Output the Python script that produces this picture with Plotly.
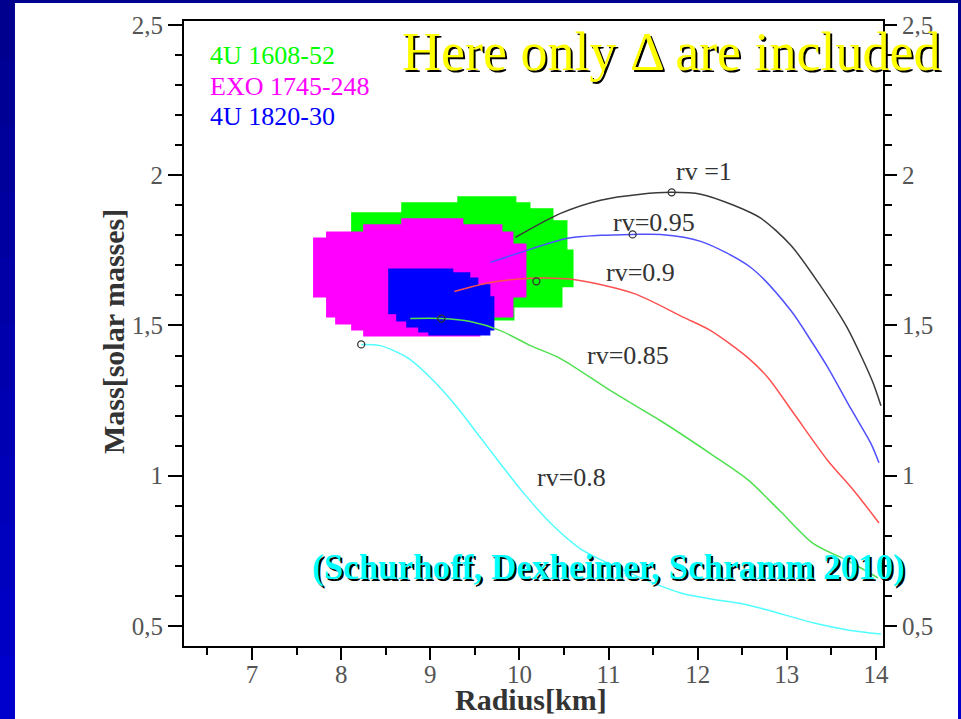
import plotly.graph_objects as go

# ---------------- data ----------------
# rv = 1 (black)
r_rv100 = [9.955, 10.461, 10.910, 11.360, 11.708, 12.034, 12.404, 12.708, 13.045, 13.382, 13.663, 13.831, 13.966, 14.056]
m_rv100 = [1.793, 1.873, 1.917, 1.937, 1.943, 1.937, 1.900, 1.857, 1.767, 1.630, 1.500, 1.400, 1.310, 1.233]
# rv = 0.95 (blue)
r_rv095 = [9.674, 10.011, 10.539, 10.910, 11.270, 11.584, 12.034, 12.596, 13.045, 13.270, 13.461, 13.719, 13.944, 14.034]
m_rv095 = [1.710, 1.743, 1.790, 1.800, 1.803, 1.803, 1.780, 1.693, 1.550, 1.450, 1.360, 1.223, 1.107, 1.043]
# rv = 0.9 (red)
r_rv090 = [9.270, 9.674, 10.124, 10.607, 11.281, 11.843, 12.146, 12.562, 12.787, 13.079, 13.461, 13.753, 14.034]
m_rv090 = [1.613, 1.643, 1.657, 1.653, 1.607, 1.527, 1.483, 1.393, 1.327, 1.207, 1.050, 0.950, 0.843]
# rv = 0.85 (green)
r_rv085 = [8.775, 9.124, 9.449, 9.787, 10.124, 10.461, 11.022, 11.584, 12.146, 12.562, 12.933, 13.303, 13.685, 14.022]
m_rv085 = [1.523, 1.523, 1.513, 1.483, 1.433, 1.390, 1.283, 1.183, 1.073, 0.987, 0.880, 0.773, 0.717, 0.660]
# rv = 0.8 (cyan)
r_rv080 = [8.225, 8.438, 8.742, 9.034, 9.303, 9.562, 9.787, 10.045, 10.348, 10.685, 11.135, 11.809, 12.562, 12.820, 13.303, 13.685, 14.056]
m_rv080 = [1.437, 1.433, 1.393, 1.317, 1.227, 1.127, 1.040, 0.943, 0.843, 0.757, 0.690, 0.610, 0.570, 0.550, 0.510, 0.487, 0.473]

# maximum-mass markers
max_r = [11.708, 11.270, 10.190, 9.124, 8.225]
max_m = [1.943, 1.803, 1.647, 1.523, 1.437]

# observational regions (stepped contours)
reg_4u1608_r = [8.112, 8.112, 8.674, 8.674, 9.303, 9.303, 9.966, 9.966, 10.124, 10.124, 10.382, 10.382, 10.539, 10.539,
                10.607, 10.607, 10.483, 10.483, 9.944, 9.944, 8.112]
reg_4u1608_m = [1.800, 1.877, 1.877, 1.910, 1.910, 1.930, 1.930, 1.910, 1.910, 1.890, 1.890, 1.850, 1.850, 1.753,
                1.753, 1.627, 1.627, 1.560, 1.560, 1.517, 1.517]
reg_exo1745_r = [7.685, 7.831, 7.831, 8.247, 8.247, 8.674, 8.674, 9.371, 9.371, 9.809, 9.809, 9.933, 9.933, 10.079,
                 10.079, 9.933, 9.933, 9.562, 9.562, 8.247, 8.247, 8.112, 8.112, 7.933, 7.933, 7.831, 7.831, 7.685]
reg_exo1745_m = [1.793, 1.793, 1.813, 1.813, 1.837, 1.837, 1.857, 1.857, 1.837, 1.837, 1.813, 1.813, 1.773, 1.773,
                 1.593, 1.593, 1.527, 1.527, 1.463, 1.463, 1.483, 1.483, 1.503, 1.503, 1.527, 1.527, 1.593, 1.593]
reg_4u1820_r = [8.528, 9.258, 9.258, 9.449, 9.449, 9.539, 9.539, 9.674, 9.674, 9.719, 9.719, 9.674, 9.674, 8.978,
                8.978, 8.865, 8.865, 8.730, 8.730, 8.618, 8.618, 8.528]
reg_4u1820_m = [1.690, 1.690, 1.677, 1.677, 1.660, 1.660, 1.637, 1.637, 1.597, 1.597, 1.483, 1.483, 1.467, 1.467,
                1.477, 1.477, 1.493, 1.493, 1.513, 1.513, 1.537, 1.537]

region_names = ["4U 1608-52", "EXO 1745-248", "4U 1820-30"]
curve_labels = ["rv =1", "rv=0.95", "rv=0.9", "rv=0.85", "rv=0.8"]
label_r = [12.067, 11.506, 11.360, 11.213, 10.584]
label_m = [2.013, 1.843, 1.677, 1.400, 0.993]

x_ticks = [7, 8, 9, 10, 11, 12, 13, 14]
y_ticks = [0.5, 1, 1.5, 2, 2.5]

# ---------------- figure ----------------
SERIF = "Liberation Serif, Times New Roman, serif"
fig = go.Figure()

region_colors = ["#00ff00", "#ff00ff", "#0000ff"]
for rr, mm, col, nm in zip([reg_4u1608_r, reg_exo1745_r, reg_4u1820_r],
                           [reg_4u1608_m, reg_exo1745_m, reg_4u1820_m], region_colors, region_names):
    fig.add_trace(go.Scatter(x=rr, y=mm, fill="toself", fillcolor=col, mode="lines",
                             line=dict(width=0, color=col), name=nm, showlegend=False, hoverinfo="skip"))

curve_colors = ["#3a3a3a", "#5050ff", "#ff5050", "#50e050", "#50ffff"]
for rr, mm, col in zip([r_rv100, r_rv095, r_rv090, r_rv085, r_rv080],
                       [m_rv100, m_rv095, m_rv090, m_rv085, m_rv080], curve_colors):
    fig.add_trace(go.Scatter(x=rr, y=mm, mode="lines",
                             line=dict(color=col, width=1.5, shape="spline", smoothing=0.8),
                             showlegend=False, yaxis="y2"))

fig.add_trace(go.Scatter(x=max_r, y=max_m, mode="markers", yaxis="y2", showlegend=False,
                         marker=dict(symbol="circle-open", size=7, color="#333333", line=dict(width=1.3))))

xr = [6.237, 14.079]
yr = [0.4334, 2.5133]
axis_common = dict(showgrid=False, zeroline=False, showline=True, linecolor="black", linewidth=2,
                   ticks="outside", tickcolor="black", tickwidth=2,
                   tickfont=dict(family=SERIF, size=25, color="#555555"))

fig.update_layout(
    width=961, height=719,
    margin=dict(l=184, r=78, t=21, b=73),
    paper_bgcolor="#0000a8",
    plot_bgcolor="white",
    separators=", ",
    xaxis=dict(range=xr, tickvals=x_ticks, ticklen=12, mirror=True, ticklabelstandoff=-7,
               minor=dict(dtick=0.5, tick0=0, ticks="outside", ticklen=7, tickcolor="black", tickwidth=2),
               **axis_common),
    yaxis=dict(range=yr, tickvals=y_ticks, ticklen=14, side="left",
               minor=dict(dtick=0.1, tick0=0, ticks="outside", ticklen=7, tickcolor="black", tickwidth=2),
               **axis_common),
    yaxis2=dict(range=yr, tickvals=y_ticks, ticklen=12, side="right", overlaying="y", anchor="x",
                minor=dict(dtick=0.1, tick0=0, ticks="outside", ticklen=7, tickcolor="black", tickwidth=2),
                **axis_common),
)

# slide background: blue gradient strips and white panel
n_bands = 12
top_c, bot_c = (0, 0, 0x88), (0, 0, 0xcc)
for i in range(n_bands):
    t = i / (n_bands - 1)
    col = "rgb(%d,%d,%d)" % tuple(int(a + (b - a) * t) for a, b in zip(top_c, bot_c))
    y1 = 1.15 - i * (1.15 + 0.12) / n_bands
    y0 = 1.15 - (i + 1) * (1.15 + 0.12) / n_bands
    fig.add_shape(type="rect", xref="paper", yref="paper", x0=-0.27, x1=1.12, y0=y0, y1=y1,
                  fillcolor=col, line=dict(width=0), layer="below")
fig.add_shape(type="rect", xref="paper", yref="paper", x0=-0.2418, x1=1.1073, y0=-0.1168, y1=1.0288,
              fillcolor="white", line=dict(width=0), layer="below")

# region legend
for i, (nm, col) in enumerate(zip(region_names, region_colors)):
    fig.add_annotation(x=6.506, y=[2.397, 2.297, 2.197][i], text=nm, showarrow=False,
                       xanchor="left", yanchor="middle",
                       font=dict(family=SERIF, size=26, color=col))

# curve labels
for txt, rx, my in zip(curve_labels, label_r, label_m):
    fig.add_annotation(x=rx, y=my, text=txt, showarrow=False, yref="y2", xanchor="center", yanchor="middle",
                       font=dict(family=SERIF, size=26, color="#333333"))

# axis titles
fig.add_annotation(xref="paper", yref="paper", x=-0.1016, y=0.504, text="<b>Mass[solar masses]</b>",
                   textangle=-90, showarrow=False, xanchor="center", yanchor="middle",
                   font=dict(family=SERIF, size=30, color="#333333"))
fig.add_annotation(xref="paper", yref="paper", x=0.496, y=-0.085, text="<b>Radius[km]</b>",
                   showarrow=False, xanchor="center", yanchor="middle",
                   font=dict(family=SERIF, size=30, color="#333333"))

# slide title with shadow
title = "Here only Δ are included"
for dx, dy, col in [(2, -2, "black"), (0, 0, "#ffff00")]:
    fig.add_annotation(xref="paper", yref="paper", x=0.698, y=0.950, text=title, showarrow=False,
                       xanchor="center", yanchor="middle", xshift=dx, yshift=dy,
                       font=dict(family=SERIF, size=54, color=col))

# citation with shadow
cite = "<b>(Schurhoff, Dexheimer, Schramm 2010)</b>"
for dx, dy, col in [(2, -2, "black"), (0, 0, "#00ffff")]:
    fig.add_annotation(xref="paper", yref="paper", x=0.608, y=0.125, text=cite, showarrow=False,
                       xanchor="center", yanchor="middle", xshift=dx, yshift=dy,
                       font=dict(family=SERIF, size=35, color=col))

fig.write_html("out.html", config={"displayModeBar": False},
               post_script="document.body.style.margin='0';")
